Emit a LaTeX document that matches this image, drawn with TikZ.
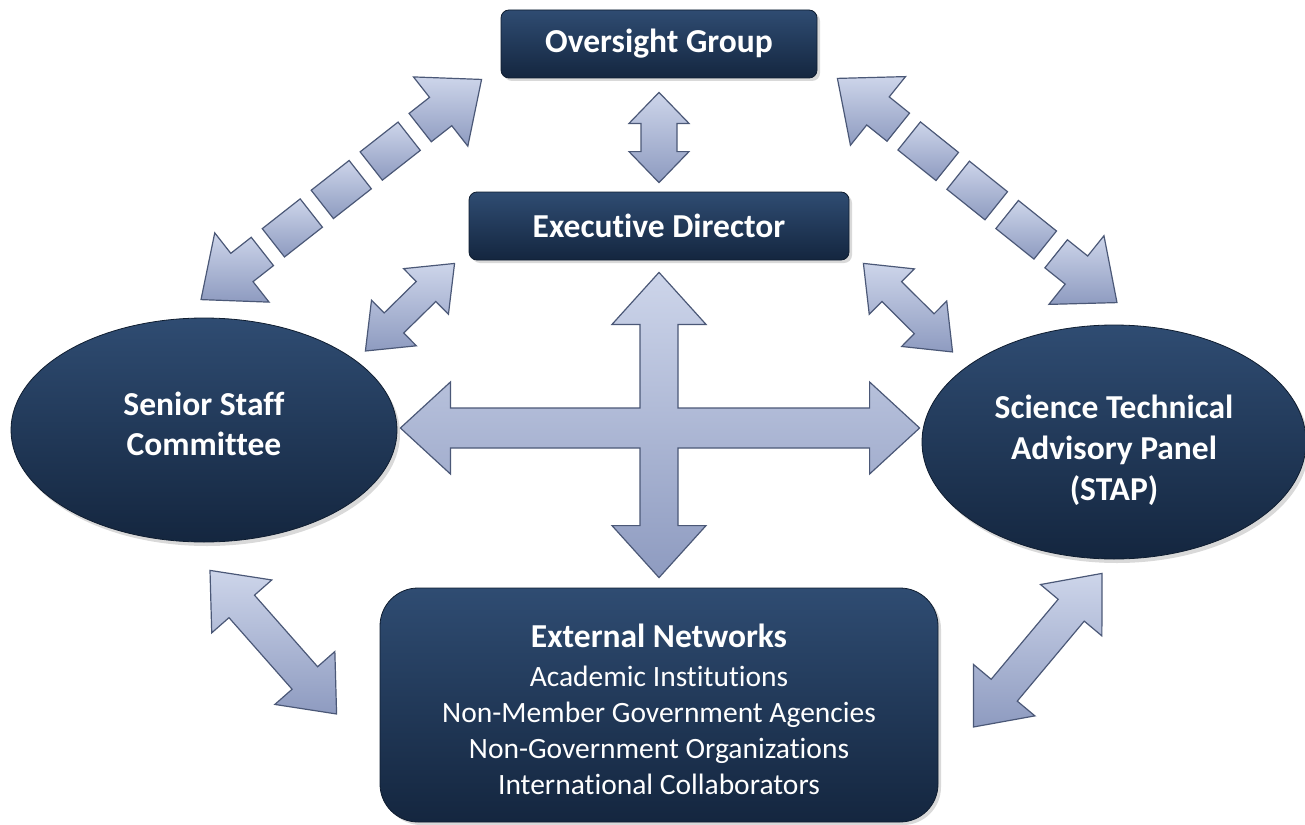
\documentclass[tikz,border=0pt]{standalone}
\usepackage{fontspec}
\setmainfont{Carlito}[Ligatures=CommonOff]
\usetikzlibrary{calc,shapes.geometric,shadows}

\definecolor{navytop}{HTML}{2F4C72}
\definecolor{navybot}{HTML}{14263F}
\definecolor{navyedge}{HTML}{0F1D30}
\definecolor{arrowtop}{HTML}{CDD5EA}
\definecolor{arrowbot}{HTML}{8E9BC0}
\definecolor{arrowedge}{HTML}{4B5877}

\newcommand\headfont{\fontsize{33.5}{40}\selectfont\bfseries}
\newcommand\listfont{\fontsize{29.5}{36}\selectfont}

\tikzset{
  unitbox/.style={rectangle, rounded corners=8pt, draw=navyedge, line width=0.8pt,
    top color=navytop, bottom color=navybot, text=white, font=\headfont, align=center,
    drop shadow={opacity=0.3, shadow xshift=3pt, shadow yshift=-3pt}},
  unitoval/.style={ellipse, draw=navyedge, line width=0.8pt,
    top color=navytop, bottom color=navybot,
    drop shadow={opacity=0.3, shadow xshift=3pt, shadow yshift=-4pt}},
  unitlabel/.style={text=white, font=\headfont, align=center},
  linkarrow/.style={draw=arrowedge, line width=1.2pt, line join=miter,
    top color=arrowtop, bottom color=arrowbot}
}

% block arrow with a head at both ends: from, to, half shaft, half head, head length
\newcommand\twoway[5]{%
  \pgfpointdiff{\pgfpointanchor{#1}{center}}{\pgfpointanchor{#2}{center}}%
  \pgfgetlastxy\arrdx\arrdy
  \pgfmathsetmacro\arrlen{veclen(\arrdx,\arrdy)}%
  \pgfmathsetmacro\arrang{atan2(\arrdy,\arrdx)}%
  \pgfmathsetmacro\arrend{\arrlen-#5}%
  \path[linkarrow, shift={(#1)}, rotate=\arrang]
    (0pt,0pt) -- (#5pt,#4pt) -- (#5pt,#3pt) -- (\arrend pt,#3pt) -- (\arrend pt,#4pt)
    -- (\arrlen pt,0pt) -- (\arrend pt,-#4pt) -- (\arrend pt,-#3pt) -- (#5pt,-#3pt)
    -- (#5pt,-#4pt) -- cycle;}

% the same, broken into blocks
\newcommand\twowaydashed[2]{%
  \pgfpointdiff{\pgfpointanchor{#1}{center}}{\pgfpointanchor{#2}{center}}%
  \pgfgetlastxy\arrdx\arrdy
  \pgfmathsetmacro\arrlen{veclen(\arrdx,\arrdy)}%
  \pgfmathsetmacro\arrang{atan2(\arrdy,\arrdx)}%
  \pgfmathsetmacro\arrend{\arrlen-52}%
  \pgfmathsetmacro\stubend{\arrlen-78}%
  \pgfmathsetmacro\blocklen{(\arrlen-2*78-4*14)/3}%
  \begin{scope}[shift={(#1)}, rotate=\arrang]
    \path[linkarrow] (0pt,0pt) -- (52pt,44pt) -- (52pt,18pt) -- (78pt,18pt)
      -- (78pt,-18pt) -- (52pt,-18pt) -- (52pt,-44pt) -- cycle;
    \path[linkarrow] (\arrlen pt,0pt) -- (\arrend pt,44pt) -- (\arrend pt,18pt) -- (\stubend pt,18pt)
      -- (\stubend pt,-18pt) -- (\arrend pt,-18pt) -- (\arrend pt,-44pt) -- cycle;
    \foreach \k in {0,1,2}{
      \pgfmathsetmacro\blocka{92+\k*(\blocklen+14)}
      \pgfmathsetmacro\blockb{\blocka+\blocklen}
      \path[linkarrow] (\blocka pt,18pt) rectangle (\blockb pt,-18pt);
    }
  \end{scope}}

\begin{document}
\begin{tikzpicture}[x=1pt,y=-1pt]

\useasboundingbox (0,0) rectangle (1305,824);

\node[unitbox, minimum width=316pt, minimum height=68pt] (og) at (659,44) {Oversight Group};
\node[unitbox, minimum width=380pt, minimum height=68pt] (ed) at (659,226) {Executive Director};
\node[unitoval, minimum width=386pt, minimum height=224pt] (ssc) at (204,430) {};
\node[unitlabel] (ssctext) at ($(ssc)+(0,-6)$) {Senior Staff\\Committee};
\node[unitoval, minimum width=384pt, minimum height=234pt] (stap) at (1114,442) {};
\node[unitlabel, font=\fontsize{33.5}{41}\selectfont\bfseries] (staptext) at ($(stap)+(0,8)$)
  {Science Technical\\Advisory Panel\\(STAP)};
\node[unitbox, rounded corners=38pt, minimum width=558pt, minimum height=234pt] (ext) at (659,705) {};
\node[unitlabel, font=\listfont] (exttext) at ($(ext)+(0,4)$)
  {{\headfont External Networks}\\[3pt]Academic Institutions\\Non-Member Government Agencies\\
   Non-Government Organizations\\International Collaborators};

% arrow ends
\coordinate (ogtip) at ($(og.south)+(0,14)$);
\coordinate (edtop) at ($(ed.north)+(0,-9)$);
\coordinate (sscup) at ($(ssc.north)+(-3,-18)$);
\coordinate (ogleft) at ($(og.south west)+(-19,1)$);
\coordinate (ogright) at ($(og.south east)+(20,0)$);
\coordinate (stapup) at ($(stap.north)+(3,-22)$);
\coordinate (edleft) at ($(ed.south west)+(-14,3)$);
\coordinate (sscright) at ($(ssc.east)+(-32,-79)$);
\coordinate (edright) at ($(ed.south east)+(14,3)$);
\coordinate (stapleft) at ($(stap.west)+(31,-90)$);
\coordinate (sscdown) at ($(ssc.south)+(6,28)$);
\coordinate (extleft) at ($(ext.west)+(-43,9)$);
\coordinate (stapdown) at ($(stap.south)+(-12,14)$);
\coordinate (extright) at ($(ext.east)+(35,22)$);

\coordinate (crosstop) at ($(ed.south)+(0,12)$);
\coordinate (crossbot) at ($(ext.north)+(0,-10)$);
\coordinate (crossleft) at ($(ssc.east)+(3,-2)$);
\coordinate (crossright) at ($(stap.west)+(-2,-14)$);
\coordinate (crossmid) at (crosstop |- crossleft);

\twoway{ogtip}{edtop}{18}{30}{31}
\twowaydashed{sscup}{ogleft}
\twowaydashed{ogright}{stapup}
\twoway{sscright}{edleft}{14}{32}{40}
\twoway{edright}{stapleft}{14}{32}{40}
\twoway{sscdown}{extleft}{17}{40}{48}
\twoway{extright}{stapdown}{17}{40}{48}

% the four-way arrow in the middle
\path[linkarrow] (crosstop) -- ($(crosstop)+(47,52)$) -- ($(crosstop)+(19,52)$)
  -- ($(crossmid)+(19,-20)$) -- ($(crossright)+(-50,-20)$) -- ($(crossright)+(-50,-46)$)
  -- (crossright) -- ($(crossright)+(-50,46)$) -- ($(crossright)+(-50,20)$)
  -- ($(crossmid)+(19,20)$) -- ($(crossbot)+(19,-52)$) -- ($(crossbot)+(47,-52)$)
  -- (crossbot) -- ($(crossbot)+(-47,-52)$) -- ($(crossbot)+(-19,-52)$)
  -- ($(crossmid)+(-19,20)$) -- ($(crossleft)+(50,20)$) -- ($(crossleft)+(50,46)$)
  -- (crossleft) -- ($(crossleft)+(50,-46)$) -- ($(crossleft)+(50,-20)$)
  -- ($(crossmid)+(-19,-20)$) -- ($(crosstop)+(-19,52)$) -- ($(crosstop)+(-47,52)$) -- cycle;

\end{tikzpicture}
\end{document}
